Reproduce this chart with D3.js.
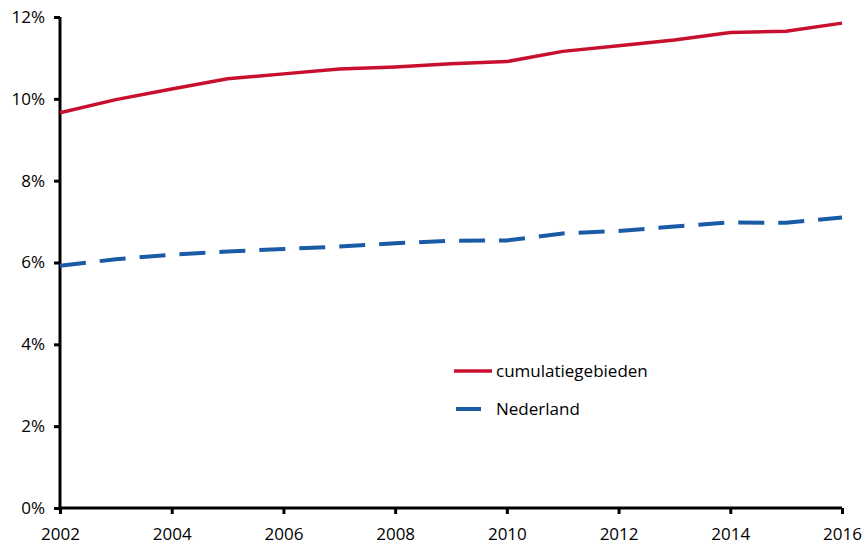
<!DOCTYPE html>
<html>
<head>
<meta charset="utf-8">
<script src="https://cdn.jsdelivr.net/npm/d3@7"></script>
<style>
  body { margin: 0; background: #fff; }
  svg { display: block; }
  .axis text { font-family: "Open Sans", "Noto Sans", sans-serif; font-size: 17px; fill: #000; }
  .legend text { font-family: "Open Sans", "Noto Sans", sans-serif; font-size: 17px; fill: #000; }
</style>
</head>
<body>
<div id="chart"></div>
<script>
const years = [2002, 2003, 2004, 2005, 2006, 2007, 2008, 2009, 2010, 2011, 2012, 2013, 2014, 2015, 2016];
const cumulatie = [9.66, 9.98, 10.24, 10.49, 10.61, 10.73, 10.78, 10.86, 10.91, 11.16, 11.30, 11.44, 11.62, 11.65, 11.85];
const nederland = [5.92, 6.08, 6.19, 6.27, 6.33, 6.39, 6.47, 6.53, 6.54, 6.71, 6.77, 6.88, 6.98, 6.97, 7.10];
const yTicks = [0, 2, 4, 6, 8, 10, 12];
const xTicks = [2002, 2004, 2006, 2008, 2010, 2012, 2014, 2016];

const width = 864, height = 549;
const margin = { top: 17, right: 22, bottom: 41, left: 60 };

const svg = d3.select("#chart").append("svg")
  .attr("width", width)
  .attr("height", height);

const x = d3.scaleLinear()
  .domain([2002, 2016])
  .range([margin.left, width - margin.right]);

const y = d3.scaleLinear()
  .domain([0, 12])
  .range([height - margin.bottom, margin.top]);

// Axes
const xAxis = svg.append("g")
  .attr("class", "axis")
  .attr("transform", `translate(0,${height - margin.bottom})`)
  .call(d3.axisBottom(x).tickValues(xTicks).tickFormat(d3.format("d")).tickSize(6).tickPadding(14));

const yAxis = svg.append("g")
  .attr("class", "axis")
  .attr("transform", `translate(${margin.left},0)`)
  .call(d3.axisLeft(y).tickValues(yTicks).tickFormat(d => d + "%").tickSize(6).tickPadding(9));

svg.selectAll(".axis path").attr("stroke", "#000").attr("stroke-width", 3);
svg.selectAll(".axis line").attr("stroke", "#000").attr("stroke-width", 3);
xAxis.selectAll("path").attr("d", `M${margin.left},0H${width - margin.right}`);
yAxis.selectAll("path").attr("d", `M0,${margin.top}V${height - margin.bottom}`);

const line = d3.line()
  .x((d, i) => x(years[i]))
  .y(d => y(d));

svg.append("path")
  .datum(nederland)
  .attr("fill", "none")
  .attr("stroke", "#1a5ba6")
  .attr("stroke-width", 4)
  .attr("stroke-dasharray", "26,14")
  .attr("d", line);

svg.append("path")
  .datum(cumulatie)
  .attr("fill", "none")
  .attr("stroke", "#c8102e")
  .attr("stroke-width", 3.5)
  .attr("d", line);

// Legend
const legend = svg.append("g").attr("class", "legend");
const items = [
  { label: "cumulatiegebieden", color: "#c8102e", width: 3.5, x1: 454, x2: 492, ty: 371 },
  { label: "Nederland", color: "#1a5ba6", width: 4, x1: 456, x2: 481, ty: 409 }
];
items.forEach(it => {
  legend.append("line")
    .attr("x1", it.x1).attr("x2", it.x2)
    .attr("y1", it.ty).attr("y2", it.ty)
    .attr("stroke", it.color)
    .attr("stroke-width", it.width);
  legend.append("text")
    .attr("x", 496)
    .attr("y", it.ty)
    .attr("dy", "0.35em")
    .text(it.label);
});
</script>
</body>
</html>
